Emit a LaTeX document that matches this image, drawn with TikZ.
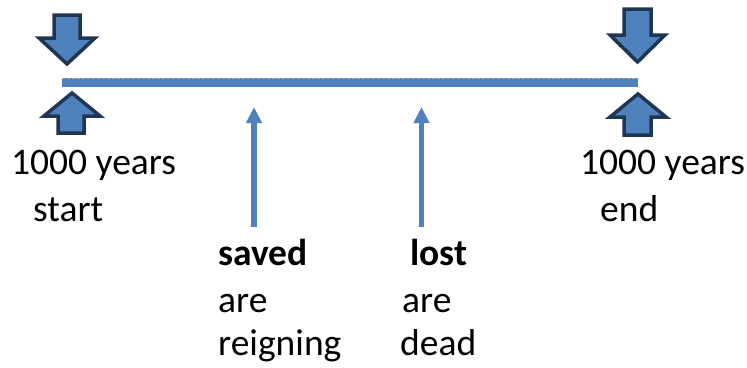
\documentclass[tikz,border=0pt]{standalone}
\usepackage{fontspec}
\setmainfont{Carlito}
\usetikzlibrary{arrows.meta}
\definecolor{bl}{HTML}{4F81BD}
\definecolor{navy}{HTML}{1F3552}
\tikzset{
  lbl/.style={anchor=base west, inner sep=0pt, font=\fontsize{37.5}{42}\selectfont},
  blk/.style={fill=bl, draw=navy, line width=3.5pt, line join=miter},
  thin arrow/.style={draw=bl, line width=5.5pt, -{Triangle[width=15pt,length=16pt]}},
}
\begin{document}
\begin{tikzpicture}[x=1pt,y=-1pt]
\useasboundingbox (0,0) rectangle (747,367);
% timeline
\fill[bl] (62,78) rectangle (638,87);
\draw[gray!70, line width=0.6pt, dash pattern=on 3pt off 2pt] (62,78.3) -- (638,78.3);
% block arrows (down)
\draw[blk] (54,15) -- (80,15) -- (80,38) -- (95,38) -- (67,64) -- (39,38) -- (54,38) -- cycle;
\draw[blk] (624,9) -- (651,9) -- (651,35) -- (665,35) -- (637.5,62) -- (610,35) -- (624,35) -- cycle;
% block arrows (up)
\draw[blk] (58,133) -- (84,133) -- (84,116) -- (100,116) -- (72,93) -- (44,116) -- (58,116) -- cycle;
\draw[blk] (624,135) -- (651,135) -- (651,117) -- (666,117) -- (638,94) -- (610,117) -- (624,117) -- cycle;
% thin arrows
\coordinate (s0) at (254,227);
\coordinate (s1) at (254,107);
\coordinate (l0) at (421.5,227);
\coordinate (l1) at (421.5,107);
\draw[thin arrow] (s0) -- (s1);
\draw[thin arrow] (l0) -- (l1);
% labels
\node[lbl] (ys) at (11,174) {1000 years};
\node[lbl] (st) at (33,221) {start};
\node[lbl] (ye) at (580,174) {1000 years};
\node[lbl] (en) at (600,221) {end};
\node[lbl] (sv) at (218,265) {\bfseries saved};
\node[lbl] (a1) at (218,312) {are};
\node[lbl] (rg) at (218,355) {reigning};
\node[lbl] (lo) at (410,265) {\bfseries lost};
\node[lbl] (a2) at (402,312) {are};
\node[lbl] (dd) at (400,355) {dead};
\end{tikzpicture}
\end{document}
